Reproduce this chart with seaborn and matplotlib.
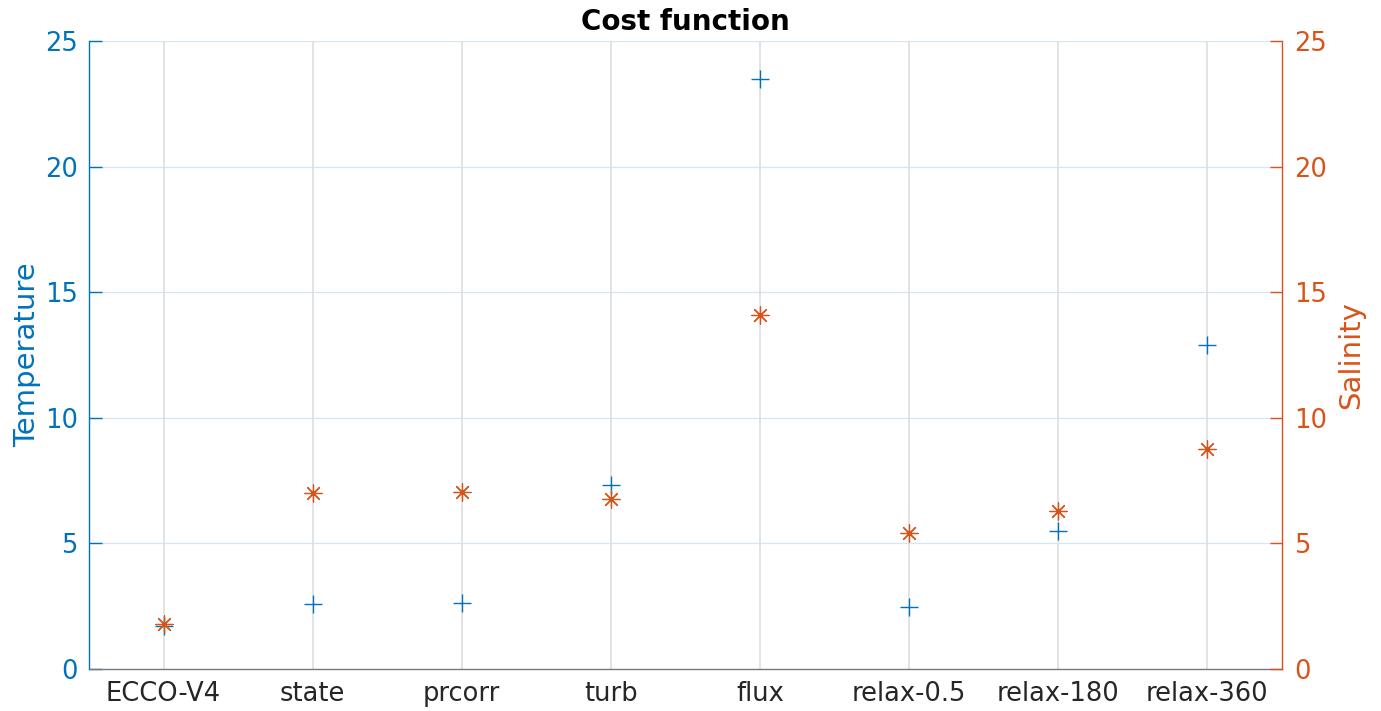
import matplotlib
matplotlib.use("Agg")
import matplotlib.pyplot as plt
import seaborn as sns
import pandas as pd

categories = ["ECCO-V4", "state", "prcorr", "turb", "flux", "relax-0.5", "relax-180", "relax-360"]
temperature = [1.71, 2.59, 2.63, 7.32, 23.49, 2.47, 5.49, 12.90]
salinity = [1.79, 7.00, 7.05, 6.77, 14.09, 5.41, 6.29, 8.76]

BLUE = "#0072BD"
ORANGE = "#D95319"

sns.set_style("white")
plt.rcParams['font.family'] = ['DejaVu Sans']

df = pd.DataFrame({"case": categories, "T": temperature, "S": salinity})

fig = plt.figure(figsize=(13.81, 7.11), dpi=100)
ax = fig.add_axes([0.0644, 0.0591, 0.8639, 0.8832])
ax2 = ax.twinx()

sns.scatterplot(data=df, x="case", y="T", marker="+", s=160, color=BLUE,
                linewidth=1.0, ax=ax, zorder=3)
sns.scatterplot(data=df, x="case", y="S", marker=(8, 2, 0), s=150, color=ORANGE,
                linewidth=0.9, ax=ax2, zorder=3)

for a in (ax, ax2):
    a.set_xlim(-0.5, len(categories) - 0.5)
    a.set_ylim(0, 25)
    a.set_yticks([0, 5, 10, 15, 20, 25])
    a.spines['top'].set_visible(False)

ax.set_xticks(range(len(categories)))
ax.set_xticklabels(categories)

# grids
for y in [5, 10, 15, 20, 25]:
    ax.axhline(y, color="#d5e5f2", lw=0.9, zorder=0)
for x in range(len(categories)):
    ax.axvline(x, color="#dedede", lw=1.2, zorder=0)

ax.spines['left'].set_color(BLUE)
ax.spines['right'].set_visible(False)
ax.spines['bottom'].set_color("#777777")
ax2.spines['right'].set_color(ORANGE)
ax2.spines['left'].set_visible(False)
ax2.spines['bottom'].set_visible(False)
for s in ('left', 'bottom'):
    ax.spines[s].set_linewidth(1.0)
ax2.spines['right'].set_linewidth(1.0)

ax.tick_params(axis='y', direction='in', length=9, width=1.0, colors=BLUE, labelsize=18.5, pad=8)
ax.tick_params(axis='x', direction='in', length=9, width=1.0, color="#262626",
               labelcolor="#262626", labelsize=18.5, pad=9)
ax2.tick_params(axis='y', direction='in', length=9, width=1.0, colors=ORANGE, labelsize=18.5, pad=9)

ax.set_xlabel("")
ax.set_ylabel("Temperature", color=BLUE, fontsize=21, labelpad=3)
ax2.set_ylabel("Salinity", color=ORANGE, fontsize=21, labelpad=7)
ax.set_title("Cost function", fontsize=20, fontweight="bold", color="black", pad=8)

fig.savefig("out.png", dpi=100)
